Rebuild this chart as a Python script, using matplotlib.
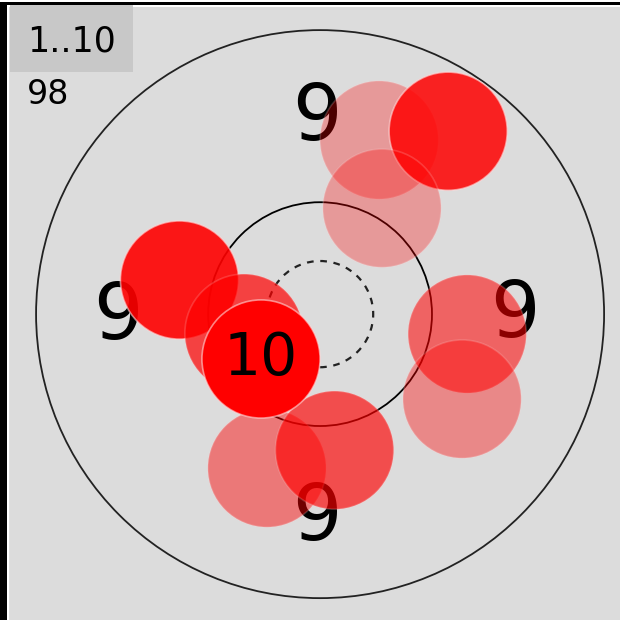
import matplotlib.pyplot as plt
from matplotlib.patches import Circle, Rectangle

# target rings (units: outer ring = 100)
ring_radii = [100, 39.4]
inner_ring = 18.7

# shots: position and opacity (oldest pale, newest solid)
shot_x = [20.8, 45.1, 21.8, -49.5, -26.8, 51.8, 50.0, -18.7, 5.1, -20.8]
shot_y = [61.3, 64.4, 37.3, 12.0, -6.7, -7.0, -29.9, -54.2, -47.9, -15.8]
shot_alpha = [0.3, 0.85, 0.3, 0.9, 0.7, 0.55, 0.38, 0.45, 0.65, 1.0]
shot_r = 20.8

# score labels
label_text = ['9', '9', '9', '9']
label_x = [-1.1, -71.1, 68.7, -1.1]
label_y = [69.0, -1.1, -0.4, -71.8]
last_score = '10'
series_name = '1..10'
total = '98'

fig = plt.figure(figsize=(6.2, 6.2), dpi=100)
fig.patch.set_facecolor('white')

# frame: gray panel with black left/top border
fig.add_artist(Rectangle((9 / 620, 0), 1, 1 - 7 / 620, transform=fig.transFigure,
                         facecolor='#dcdcdc', edgecolor='none', zorder=0))
fig.add_artist(Rectangle((0, 0), 7 / 620, 1 - 2 / 620, transform=fig.transFigure,
                         facecolor='black', edgecolor='none', zorder=0))
fig.add_artist(Rectangle((0, 1 - 5 / 620), 1, 3 / 620, transform=fig.transFigure,
                         facecolor='black', edgecolor='none', zorder=0))

ax = fig.add_axes([0, 0, 1, 1])
ax.set_xlim(-112.7, 105.6)
ax.set_ylim(-107.7, 110.6)
ax.set_aspect('equal')
ax.axis('off')
ax.patch.set_alpha(0)

ax.add_patch(Circle((0, 0), ring_radii[0], fill=False, edgecolor='#222222', lw=1.3, zorder=1))
ax.add_patch(Circle((0, 0), ring_radii[1], fill=False, edgecolor='black', lw=1.3, zorder=1))
ax.add_patch(Circle((0, 0), inner_ring, fill=False, edgecolor='#222222', lw=1.6,
                    linestyle=(0, (3, 3)), zorder=1))

for t, x, y in zip(label_text, label_x, label_y):
    ax.text(x, y, t, fontsize=56, ha='center', va='center', color='black', zorder=2)

for x, y, a in zip(shot_x, shot_y, shot_alpha):
    ax.add_patch(Circle((x, y), shot_r, facecolor=(1, 0, 0, a),
                        edgecolor=(1, 0.85, 0.85, 0.6 if a > 0.8 else 0.2), lw=1.2, zorder=3))

ax.text(shot_x[-1], shot_y[-1], last_score, fontsize=42, ha='center', va='center',
        color='black', zorder=4)

# series box in the corner
fig.add_artist(Rectangle((10 / 620, 1 - 72 / 620), 123 / 620, 67 / 620, transform=fig.transFigure,
                         facecolor='#c8c8c8', edgecolor='none', zorder=5))
fig.text(27 / 620, 1 - 42 / 620, series_name, fontsize=25, ha='left', va='center', zorder=6)
fig.text(27 / 620, 1 - 94 / 620, total, fontsize=24, ha='left', va='center', zorder=6)

fig.savefig('out.png', dpi=100)
